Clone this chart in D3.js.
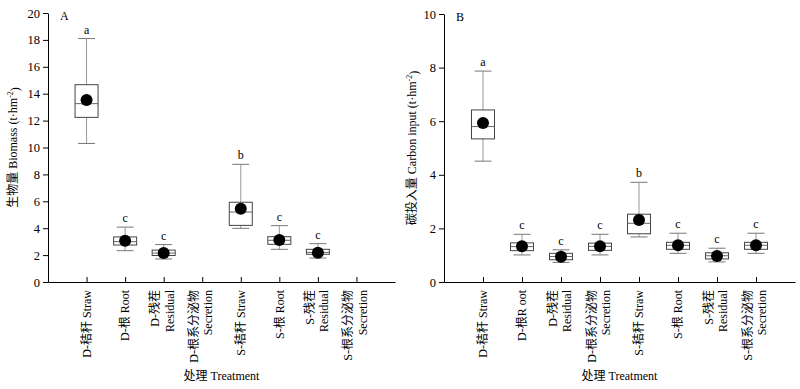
<!DOCTYPE html>
<html>
<head>
<meta charset="utf-8">
<script src="https://cdn.jsdelivr.net/npm/d3@7"></script>
<style>
  body { margin: 0; background: #fff; }
  svg { display: block; }
  text { font-family: "Liberation Serif", "Times New Roman", "Noto Sans CJK SC", serif; fill: #000; }
</style>
</head>
<body>
<svg id="chart" width="800" height="389"></svg>
<script>
// ---- Data ----
const categoriesA = ["D-秸秆 Straw", "D-根 Root", "D-残茬|Residual", "D-根系分泌物|Secretion",
                     "S-秸秆 Straw", "S-根 Root", "S-残茬|Residual", "S-根系分泌物|Secretion"];
const categoriesB = ["D-秸秆 Straw", "D-根R oot", "D-残茬|Residual", "D-根系分泌物|Secretion",
                     "S-秸秆 Straw", "S-根 Root", "S-残茬|Residual", "S-根系分泌物|Secretion"];

// Panel A: biomass (t·hm-2)
const lowA    = [10.3, 2.33, 1.71, null, 3.99, 2.43, 1.78, null];
const q1A     = [12.24, 2.75, 1.97, null, 4.21, 2.80, 2.06, null];
const medA    = [13.26, 3.00, 2.15, null, 5.20, 3.10, 2.20, null];
const q3A     = [14.67, 3.35, 2.37, null, 5.93, 3.37, 2.43, null];
const highA   = [18.1, 4.08, 2.78, null, 8.75, 4.19, 2.85, null];
const meanA   = [13.53, 3.06, 2.15, null, 5.45, 3.12, 2.18, null];
const lettersA = ["a", "c", "c", "", "b", "c", "c", ""];
const ticksA = [0, 2, 4, 6, 8, 10, 12, 14, 16, 18, 20];

// Panel B: carbon input (t·hm-2)
const lowB    = [4.51, 1.01, 0.73, 1.01, 1.68, 1.07, 0.75, 1.07];
const q1B     = [5.34, 1.17, 0.83, 1.18, 1.80, 1.22, 0.86, 1.22];
const medB    = [5.80, 1.32, 0.95, 1.33, 2.19, 1.37, 0.98, 1.37];
const q3B     = [6.42, 1.46, 1.07, 1.45, 2.53, 1.48, 1.09, 1.48];
const highB   = [7.87, 1.78, 1.20, 1.78, 3.72, 1.82, 1.26, 1.82];
const meanB   = [5.93, 1.33, 0.94, 1.33, 2.31, 1.37, 0.97, 1.37];
const lettersB = ["a", "c", "c", "c", "b", "c", "c", "c"];
const ticksB = [0, 2, 4, 6, 8, 10];

const xTitle = "处理 Treatment";
const yTitleA = "生物量 Biomass (t·hm";
const yTitleB = "碳投入量 Carbon input (t·hm";

const svg = d3.select("#chart");

function panel(opts) {
  const { left, right, top, bottom, ymax, ticks, cats, low, q1, med, q3, high, mean, letters, yTitle, panelLetter, yTitleX } = opts;
  const g = svg.append("g");
  const x = d3.scaleLinear().domain([0, 9]).range([left, right]);
  const y = d3.scaleLinear().domain([0, ymax]).range([bottom, top]);

  // Y axis
  const yAxis = d3.axisLeft(y).tickValues(ticks).tickSize(5).tickSizeOuter(0).tickPadding(3).tickFormat(d3.format("d"));
  const ya = g.append("g").attr("transform", `translate(${left},0)`).call(yAxis);
  ya.selectAll("text").style("font-size", "12.5px");
  ya.select(".domain").attr("stroke", "#000");

  // X axis with inward ticks
  const idx = d3.range(1, 9);
  const xAxis = d3.axisBottom(x).tickValues(idx).tickSize(-5).tickSizeOuter(0).tickFormat("");
  const xa = g.append("g").attr("transform", `translate(0,${bottom})`).call(xAxis);
  xa.select(".domain").attr("stroke", "#000");

  // X labels (rotated)
  cats.forEach((c, i) => {
    const cx = x(i + 1);
    const lines = c.split("|");
    const offs = lines.length === 1 ? [0] : [-8.5, 6];
    lines.forEach((ln, j) => {
      g.append("text")
        .attr("transform", `translate(${cx + offs[j]},${bottom + 8}) rotate(-90)`)
        .attr("text-anchor", "end")
        .attr("dy", "0.35em")
        .style("font-size", "12px")
        .text(ln);
    });
  });

  // Boxes
  const bw = 23, cw = 17, r = 6;
  idx.forEach((k, i) => {
    if (mean[i] == null) return;
    const cx = x(k);
    g.append("line").attr("x1", cx).attr("x2", cx).attr("y1", y(low[i])).attr("y2", y(high[i]))
      .attr("stroke", "#999").attr("stroke-width", 1);
    g.append("line").attr("x1", cx - cw / 2).attr("x2", cx + cw / 2).attr("y1", y(high[i])).attr("y2", y(high[i]))
      .attr("stroke", "#777").attr("stroke-width", 1);
    g.append("line").attr("x1", cx - cw / 2).attr("x2", cx + cw / 2).attr("y1", y(low[i])).attr("y2", y(low[i]))
      .attr("stroke", "#777").attr("stroke-width", 1);
    g.append("rect").attr("x", cx - bw / 2).attr("y", y(q3[i])).attr("width", bw).attr("height", y(q1[i]) - y(q3[i]))
      .attr("fill", "#fff").attr("stroke", "#444").attr("stroke-width", 1);
    g.append("line").attr("x1", cx - bw / 2).attr("x2", cx + bw / 2).attr("y1", y(med[i])).attr("y2", y(med[i]))
      .attr("stroke", "#666").attr("stroke-width", 1);
    g.append("circle").attr("cx", cx).attr("cy", y(mean[i])).attr("r", r).attr("fill", "#000");
    g.append("text").attr("x", cx).attr("y", y(high[i]) - 5).attr("text-anchor", "middle")
      .style("font-size", "12px").text(letters[i]);
  });

  // Panel letter
  g.append("text").attr("x", left + 12).attr("y", top + 7).style("font-size", "12px").text(panelLetter);

  // Y title
  const yt = g.append("text")
    .attr("transform", `translate(${yTitleX},${(top + bottom) / 2}) rotate(-90)`)
    .attr("text-anchor", "middle")
    .style("font-size", "12px");
  yt.append("tspan").text(yTitle);
  yt.append("tspan").attr("dy", "-0.45em").style("font-size", "8px").text("-2");
  yt.append("tspan").attr("dy", "0.45em").text(")");

  // X title
  g.append("text").attr("x", (left + right) / 2).attr("y", 380).attr("text-anchor", "middle")
    .style("font-size", "12px").text(xTitle);
}

panel({ left: 48, right: 395, top: 13, bottom: 282, ymax: 20, ticks: ticksA, cats: categoriesA,
  low: lowA, q1: q1A, med: medA, q3: q3A, high: highA, mean: meanA, letters: lettersA,
  yTitle: yTitleA, panelLetter: "A", yTitleX: 17 });
panel({ left: 444, right: 795, top: 14, bottom: 282, ymax: 10, ticks: ticksB, cats: categoriesB,
  low: lowB, q1: q1B, med: medB, q3: q3B, high: highB, mean: meanB, letters: lettersB,
  yTitle: yTitleB, panelLetter: "B", yTitleX: 416 });
</script>
</body>
</html>
